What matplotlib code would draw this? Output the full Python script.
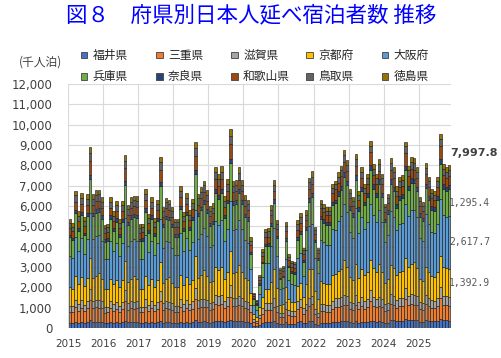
import matplotlib
matplotlib.use('Agg')
import matplotlib.pyplot as plt
from matplotlib.patches import Rectangle
import numpy as np

prefs = ['福井県', '三重県', '滋賀県', '京都府', '大阪府', '兵庫県', '奈良県', '和歌山県', '鳥取県', '徳島県']
colors = ['#4472C4', '#ED7D31', '#A5A5A5', '#FFC000', '#5B9BD5', '#70AD47', '#264478', '#9E480E', '#636363', '#997300']
year_labels = ['2015', '2016', '2017', '2018', '2019', '2020', '2021', '2022', '2023', '2024', '2025']

# monthly values (千人泊), Jan 2015 - Nov 2025
fukui = [240, 232, 304, 258, 298, 246, 296, 373, 296, 306, 306, 290,
         229, 231, 290, 258, 282, 241, 281, 357, 272, 290, 292, 291,
         230, 231, 308, 252, 290, 244, 284, 354, 268, 288, 284, 268,
         242, 242, 315, 257, 298, 260, 286, 383, 297, 312, 326, 306,
         269, 276, 357, 341, 358, 291, 330, 411, 326, 329, 356, 329,
         293, 284, 267, 104, 82, 156, 232, 293, 295, 271, 328, 238,
         176, 182, 313, 218, 198, 195, 317, 339, 237, 260, 333, 347,
         198, 158, 252, 244, 238, 238, 284, 290, 306, 320, 350, 331,
         274, 258, 342, 270, 316, 284, 303, 368, 323, 303, 333, 303,
         244, 264, 401, 380, 334, 356, 360, 440, 384, 403, 402, 380,
         309, 297, 389, 356, 329, 324, 356, 458, 387, 380, 330]
mie = [561, 542, 710, 602, 696, 573, 690, 1022, 690, 714, 680, 676,
       533, 539, 676, 602, 658, 562, 656, 978, 635, 676, 649, 679,
       536, 539, 719, 587, 676, 569, 662, 969, 625, 672, 630, 625,
       565, 565, 735, 599, 696, 607, 668, 1050, 693, 728, 725, 714,
       628, 645, 834, 796, 836, 679, 771, 1126, 761, 767, 790, 767,
       685, 664, 534, 208, 164, 312, 464, 587, 590, 633, 729, 555,
       352, 365, 625, 436, 396, 390, 635, 678, 474, 607, 740, 809,
       471, 375, 599, 580, 565, 565, 674, 761, 728, 759, 788, 786,
       651, 612, 813, 642, 751, 674, 720, 966, 767, 720, 749, 720,
       580, 627, 793, 751, 661, 705, 713, 963, 759, 798, 753, 751,
       612, 588, 770, 705, 651, 642, 705, 1002, 767, 751, 740]
shiga = [294, 284, 372, 315, 365, 300, 361, 533, 361, 374, 374, 354,
         279, 282, 354, 315, 345, 294, 344, 510, 333, 354, 357, 356,
         281, 282, 377, 307, 354, 298, 347, 506, 327, 352, 347, 327,
         296, 296, 385, 314, 365, 318, 350, 548, 363, 381, 399, 374,
         329, 338, 437, 417, 438, 356, 404, 587, 399, 402, 435, 402,
         359, 348, 312, 121, 96, 182, 271, 342, 344, 332, 401, 291,
         205, 213, 365, 254, 231, 228, 370, 396, 277, 318, 407, 424,
         273, 217, 347, 336, 327, 327, 390, 435, 421, 439, 482, 455,
         377, 354, 471, 372, 435, 390, 417, 552, 444, 417, 458, 417,
         336, 363, 459, 435, 383, 408, 413, 550, 439, 462, 460, 435,
         354, 340, 446, 408, 377, 372, 408, 572, 444, 435, 440]
kyoto = [908, 877, 1149, 974, 1127, 928, 1117, 1511, 1117, 1156, 1326, 1095,
         864, 872, 1095, 974, 1066, 910, 1063, 1445, 1029, 1095, 1266, 1100,
         867, 872, 1165, 950, 1095, 921, 1071, 1433, 1012, 1088, 1229, 1012,
         915, 915, 1190, 969, 1127, 983, 1081, 1552, 1122, 1178, 1414, 1156,
         1017, 1044, 1350, 1289, 1353, 1100, 1248, 1664, 1233, 1241, 1541, 1241,
         1108, 1074, 623, 242, 192, 364, 542, 685, 689, 1025, 1422, 899,
         410, 426, 729, 508, 462, 455, 741, 791, 553, 983, 1443, 1309,
         868, 691, 1103, 1068, 1041, 1041, 1241, 1160, 1341, 1398, 1708, 1447,
         1199, 1127, 1498, 1183, 1383, 1241, 1327, 1472, 1412, 1327, 1622, 1327,
         1069, 1155, 1461, 1384, 1218, 1299, 1313, 1467, 1398, 1470, 1632, 1384,
         1127, 1083, 1418, 1299, 1199, 1183, 1299, 1526, 1412, 1384, 1392.9]
osaka = [1549, 1496, 1960, 1662, 1923, 1583, 1905, 2223, 1905, 1972, 1904, 1868,
         1473, 1488, 1868, 1662, 1818, 1552, 1813, 2125, 1755, 1868, 1817, 1876,
         1479, 1488, 1987, 1621, 1868, 1572, 1827, 2108, 1726, 1856, 1764, 1726,
         1560, 1560, 2030, 1653, 1923, 1676, 1844, 2283, 1914, 2010, 2030, 1972,
         1734, 1781, 2303, 2198, 2308, 1876, 2129, 2448, 2103, 2117, 2212, 2117,
         1891, 1833, 1157, 450, 356, 676, 1006, 1271, 1279, 1749, 2041, 1534,
         762, 790, 1355, 944, 858, 845, 1375, 1469, 1027, 1676, 2072, 2233,
         1612, 1284, 2048, 1983, 1934, 1934, 2304, 2175, 2490, 2597, 2759, 2688,
         2226, 2093, 2782, 2197, 2568, 2304, 2464, 2760, 2623, 2464, 2621, 2464,
         1986, 2145, 2647, 2507, 2206, 2352, 2378, 2678, 2533, 2663, 2570, 2507,
         2041, 1962, 2568, 2352, 2171, 2143, 2352, 2786, 2558, 2507, 2617.7]
hyogo = [908, 877, 1149, 974, 1127, 928, 1117, 1689, 1117, 1156, 1122, 1095,
         864, 872, 1095, 974, 1066, 910, 1063, 1615, 1029, 1095, 1071, 1100,
         867, 872, 1165, 950, 1095, 921, 1071, 1602, 1012, 1088, 1040, 1012,
         915, 915, 1190, 969, 1127, 983, 1081, 1735, 1122, 1178, 1196, 1156,
         1017, 1044, 1350, 1289, 1353, 1100, 1248, 1860, 1233, 1241, 1304, 1241,
         1108, 1074, 757, 294, 233, 442, 658, 831, 836, 1025, 1203, 899,
         498, 517, 886, 617, 561, 553, 899, 961, 672, 983, 1221, 1309,
         794, 632, 1008, 976, 952, 952, 1134, 1305, 1226, 1278, 1358, 1323,
         1096, 1030, 1370, 1082, 1264, 1134, 1213, 1656, 1291, 1213, 1290, 1213,
         978, 1056, 1336, 1266, 1114, 1187, 1200, 1651, 1278, 1344, 1297, 1266,
         1030, 990, 1296, 1187, 1096, 1082, 1187, 1717, 1291, 1266, 1295.4]
nara = [134, 129, 169, 143, 166, 137, 164, 196, 164, 170, 184, 161,
        127, 128, 161, 143, 157, 134, 156, 187, 151, 161, 175, 162,
        128, 128, 171, 140, 161, 136, 158, 185, 149, 160, 170, 149,
        135, 135, 175, 143, 166, 145, 159, 201, 165, 173, 196, 170,
        150, 154, 199, 190, 199, 162, 184, 215, 181, 183, 213, 183,
        163, 158, 111, 43, 34, 65, 97, 122, 123, 151, 197, 132,
        73, 76, 130, 91, 83, 81, 132, 141, 99, 145, 200, 193,
        134, 107, 170, 165, 161, 161, 191, 181, 207, 216, 245, 223,
        185, 174, 231, 183, 213, 191, 205, 230, 218, 205, 233, 205,
        165, 178, 225, 214, 188, 200, 203, 229, 216, 227, 234, 214,
        174, 167, 219, 200, 185, 183, 200, 239, 218, 214, 220]
wakayama = [320, 310, 406, 344, 398, 328, 394, 667, 394, 408, 374, 386,
            305, 308, 386, 344, 376, 321, 375, 638, 363, 386, 357, 388,
            306, 308, 411, 335, 386, 325, 378, 632, 357, 384, 347, 357,
            323, 323, 420, 342, 398, 347, 382, 685, 396, 416, 399, 408,
            359, 368, 476, 455, 478, 388, 440, 734, 435, 438, 435, 438,
            391, 379, 312, 121, 96, 182, 271, 342, 344, 362, 401, 317,
            205, 213, 365, 254, 231, 228, 370, 396, 277, 347, 407, 462,
            278, 221, 353, 342, 333, 333, 397, 508, 429, 447, 456, 463,
            384, 361, 479, 379, 442, 397, 424, 644, 452, 424, 433, 424,
            342, 370, 468, 443, 390, 416, 420, 642, 447, 470, 435, 443,
            361, 347, 454, 416, 384, 379, 416, 668, 452, 443, 440]
tottori = [240, 232, 304, 258, 298, 246, 296, 382, 296, 306, 306, 290,
           229, 231, 290, 258, 282, 241, 281, 366, 272, 290, 292, 291,
           230, 231, 308, 252, 290, 244, 284, 362, 268, 288, 284, 268,
           242, 242, 315, 257, 298, 260, 286, 393, 297, 312, 326, 306,
           269, 276, 357, 341, 358, 291, 330, 421, 326, 329, 356, 329,
           293, 284, 223, 87, 69, 130, 194, 245, 246, 271, 328, 238,
           147, 152, 261, 182, 165, 163, 265, 283, 198, 260, 333, 347,
           188, 150, 239, 232, 226, 226, 269, 254, 291, 304, 350, 314,
           260, 245, 325, 257, 300, 269, 288, 322, 307, 288, 333, 288,
           232, 251, 317, 301, 264, 282, 285, 321, 304, 319, 335, 301,
           245, 235, 308, 282, 260, 257, 282, 334, 307, 301, 300]
tokushima = [187, 181, 237, 201, 232, 191, 230, 293, 230, 238, 224, 225,
             178, 180, 225, 201, 219, 187, 219, 281, 212, 225, 214, 226,
             179, 180, 240, 196, 225, 190, 221, 278, 208, 224, 208, 208,
             188, 188, 245, 200, 232, 202, 223, 301, 231, 243, 239, 238,
             209, 215, 278, 265, 279, 226, 257, 323, 254, 256, 261, 256,
             228, 221, 156, 61, 48, 91, 135, 171, 172, 211, 241, 185,
             103, 106, 182, 127, 116, 114, 185, 198, 138, 202, 244, 270,
             144, 115, 183, 177, 173, 173, 206, 181, 222, 232, 263, 240,
             199, 187, 248, 196, 229, 206, 220, 230, 234, 220, 250, 220,
             177, 191, 242, 229, 202, 215, 218, 229, 232, 244, 251, 229,
             187, 180, 235, 215, 199, 196, 215, 239, 234, 229, 221.8]

series = [fukui, mie, shiga, kyoto, osaka, hyogo, nara, wakayama, tottori, tokushima]

W, H = 501, 358
fig = plt.figure(figsize=(W / 100, H / 100), dpi=100)
ax_l, ax_r, ax_t, ax_b = 68.3, 450.7, 84.0, 328.0
ax = fig.add_axes([ax_l / W, 1 - ax_b / H, (ax_r - ax_l) / W, (ax_b - ax_t) / H])

n = len(fukui)
x = np.arange(n)
bottom = np.zeros(n)
bottoms = []
for vals, c in zip(series, colors):
    v = np.array(vals, dtype=float)
    bottoms.append(bottom.copy())
    ax.bar(x, v, bottom=bottom, width=0.86, color=c, edgecolor='#1e1e1e',
           linewidth=0.45, zorder=2)
    bottom += v

ax.set_xlim(-0.5, n - 0.5)
ax.set_ylim(0, 12000)
yt = list(range(0, 12001, 1000))
ax.set_yticks(yt)
ax.set_yticklabels([f'{v:,}' for v in yt], fontsize=8.5, color='#404040',
                   family='DejaVu Sans')
ax.set_xticks([-0.5 + 12 * k for k in range(len(year_labels))])
ax.set_xticklabels(year_labels, fontsize=7.5, color='#404040', family='DejaVu Sans')
ax.tick_params(axis='y', length=0, pad=11.5)
ax.tick_params(axis='x', length=0, pad=8)
ax.grid(True, color='#d9d9d9', linewidth=0.8, zorder=0)
ax.set_axisbelow(True)
for s in ax.spines.values():
    s.set_visible(False)

# right-side labels for the latest month
last = n - 1
total = bottom[last]
for idx in (3, 4, 5):
    mid = bottoms[idx][last] + series[idx][last] / 2
    ax.text(n - 1.05, mid, f'{series[idx][last]:,.1f}', ha='left', va='center',
            fontsize=7, color='#595959', family='DejaVu Sans Mono', zorder=1,
            clip_on=False)
ax.text(n - 0.75, total + 620, f'{total:,.1f}', ha='left', va='center',
        fontsize=8, fontweight='bold', color='#404040', family='DejaVu Sans',
        zorder=3, clip_on=False)

# title
fig.text(251 / W, 1 - 15.5 / H, '図８　府県別日本人延べ宿泊者数 推移', ha='center', va='center',
         fontsize=15.5, color='#0000FF', family=['Noto Sans CJK JP', 'DejaVu Sans'])

# unit
fig.text(40 / W, 1 - 62 / H, '(千人泊)', ha='center', va='center', fontsize=8.5,
         color='#404040', family=['Noto Sans CJK JP', 'DejaVu Sans'])

# legend (two rows, five columns)
col_x = [80.7, 155.9, 231.1, 306.3, 381.5]
row_y = [55.0, 76.7]
sq = 6.7
for k, (name, c) in enumerate(zip(prefs, colors)):
    r, cidx = divmod(k, 5)
    lx, ly = col_x[cidx], row_y[r]
    fig.add_artist(Rectangle((lx / W, 1 - (ly + sq / 2) / H), sq / W, sq / H,
                             facecolor=c, edgecolor='#404040', linewidth=0.6,
                             transform=fig.transFigure))
    fig.text((lx + 12) / W, 1 - ly / H, name, ha='left', va='center', fontsize=8.5,
             color='#262626', family=['Noto Sans CJK JP', 'DejaVu Sans'])

fig.savefig('out.png', dpi=100)
